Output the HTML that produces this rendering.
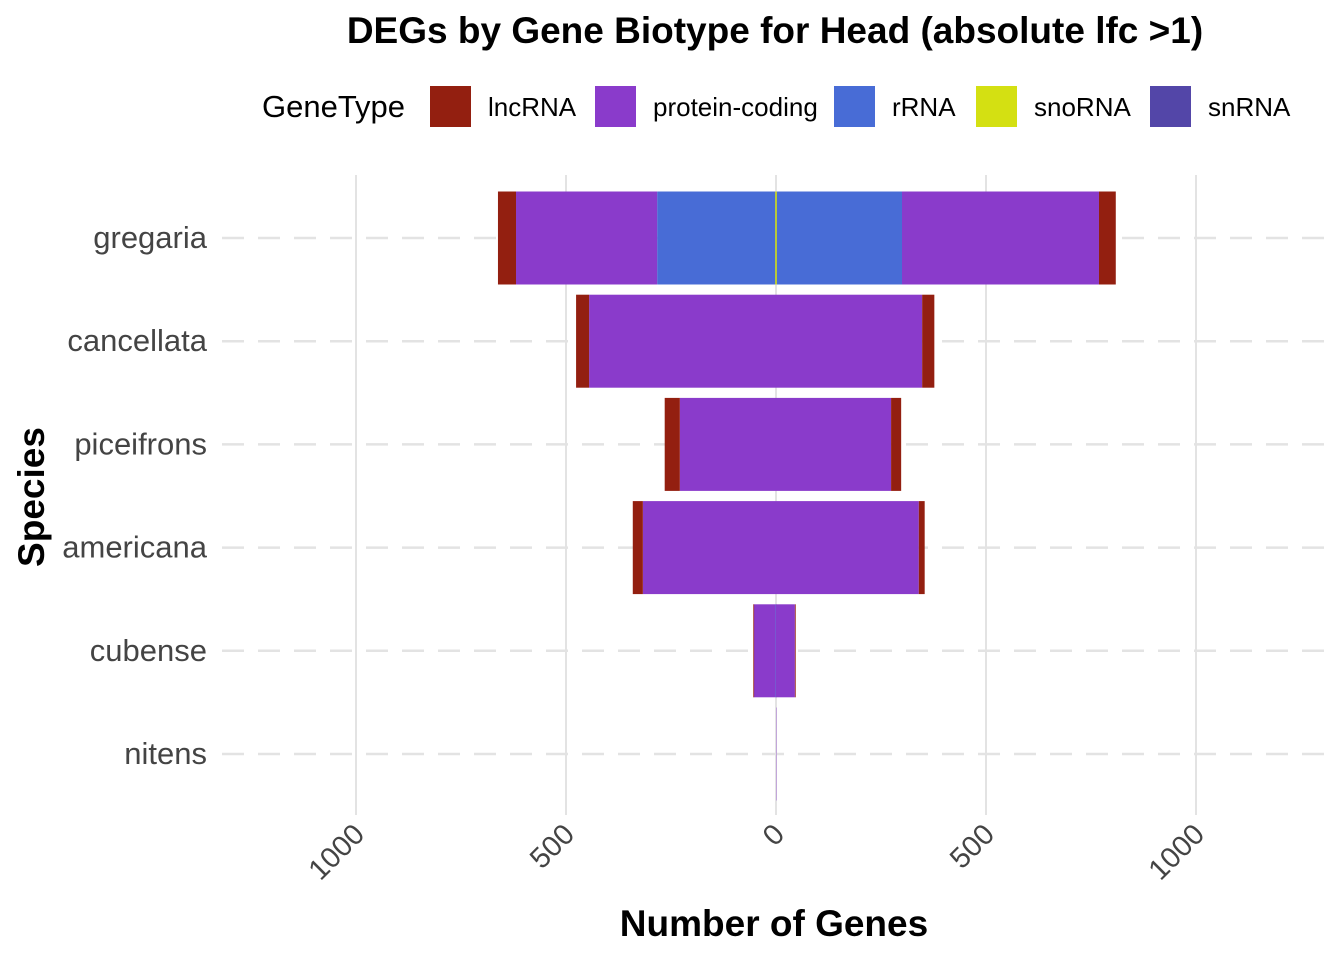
<!DOCTYPE html>
<html><head><meta charset="utf-8"><style>
html,body{margin:0;padding:0;background:#fff;}
svg{display:block;font-family:"Liberation Sans",Arial,sans-serif;}
</style></head><body>
<svg id="chart" width="1344" height="960" viewBox="0 0 1344 960">
<text x="775" y="43" text-anchor="middle" font-size="37" font-weight="bold">DEGs by Gene Biotype for Head (absolute lfc &gt;1)</text>
<g id="legend">
<text x="262" y="117" font-size="31" fill="#000">GeneType</text>
</g>
<g id="grid"></g>
<g id="bars"></g>
<g id="axes"></g>
<text x="774" y="936" text-anchor="middle" font-size="37" font-weight="bold">Number of Genes</text>
<text transform="translate(44,497) rotate(-90)" text-anchor="middle" font-size="37" font-weight="bold">Species</text>
</svg>
<script>
const species = ["gregaria","cancellata","piceifrons","americana","cubense","nitens"];
const geneTypes = ["lncRNA","protein-coding","rRNA","snoRNA","snRNA"];
const colors = ["#931f10","#8a3bcb","#486cd6","#d4e012","#5346a8"];
// down-regulated (left) counts per species, by gene type
const downLnc = [43,31,36,24,1,0];
const downProt = [336,445,229,317,52,0];
const downRRNA = [283,0,0,0,1,0];
const downSno = [1,0,0,0,0,0];
const downSn = [0,0,0,0,0,0];
// up-regulated (right) counts
const upLnc = [40,29,24,14,1,0];
const upProt = [469,348,274,340,45,0.5];
const upRRNA = [300,0,0,0,0,0];
const upSno = [1,0,0,0,0,0];
const upSn = [0,0,0,0,0,0];
const xTicks = [-1000,-500,0,500,1000];
const xTickLabels = ["1000","500","0","500","1000"];

const NS="http://www.w3.org/2000/svg";
function mk(tag,attrs,parent){const e=document.createElementNS(NS,tag);for(const k in attrs)e.setAttribute(k,attrs[k]);parent.appendChild(e);return e;}
const x0=776, scale=0.42;
function xs(v){return x0+v*scale;}
function yc(i){return 238+i*103.2;}
const barH=93;
const grid=document.getElementById('grid'), bars=document.getElementById('bars'), axes=document.getElementById('axes'), legend=document.getElementById('legend');

xTicks.forEach((t,i)=>{
  const l=mk('line',{x1:xs(t),x2:xs(t),y1:175,y2:815,stroke:'#e3e3e3','stroke-width':2},grid);
  
  
  const tx=mk('text',{x:xs(t)+10,y:836,'text-anchor':'end','font-size':29,fill:'#444',transform:`rotate(-45 ${xs(t)+10} 836)`},axes);
  tx.textContent=xTickLabels[i];
  
  
});
species.forEach((s,i)=>{
  const l=mk('line',{x1:222,x2:1330,y1:yc(i),y2:yc(i),stroke:'#e3e3e3','stroke-width':2.5,'stroke-dasharray':'22,14'},grid);
  
  
  const tx=mk('text',{x:207,y:yc(i)+10,'text-anchor':'end','font-size':31,fill:'#444'},axes);
  tx.textContent=s;
  
  
});
const down=[downSn,downRRNA,downProt,downLnc];
const up=[upSn,upRRNA,upProt,upLnc];
const order=[4,2,1,0];
species.forEach((s,i)=>{
  let acc=0;
  down.forEach((arr,k)=>{
    const v=arr[i]; if(v<=0)return;
    const r=mk('rect',{x:xs(-(acc+v)),y:yc(i)-barH/2,width:Math.max(v*scale,0.8),height:barH,fill:colors[order[k]]},bars);
    
    
    acc+=v;
  });
  acc=0;
  up.forEach((arr,k)=>{
    const v=arr[i]; if(v<=0)return;
    const r=mk('rect',{x:xs(acc),y:yc(i)-barH/2,width:Math.max(v*scale,0.8),height:barH,fill:colors[order[k]]},bars);
    if(s==='nitens')r.setAttribute('fill-opacity',0.45);
    
    
    acc+=v;
  });
  if(downSno[i]+upSno[i]>0){
    const r=mk('rect',{x:xs(0)-0.8,y:yc(i)-barH/2,width:1.6,height:barH,fill:colors[3]},bars);
    
    
  }
});
const lx=[430,595,834,976,1150];
geneTypes.forEach((g,i)=>{
  const r=mk('rect',{x:lx[i],y:86,width:41,height:41,fill:colors[i]},legend);
  
  
  const t=mk('text',{x:lx[i]+58,y:116,'font-size':26,fill:'#000'},legend);
  t.textContent=g;
  
  
});
</script>
</body></html>
